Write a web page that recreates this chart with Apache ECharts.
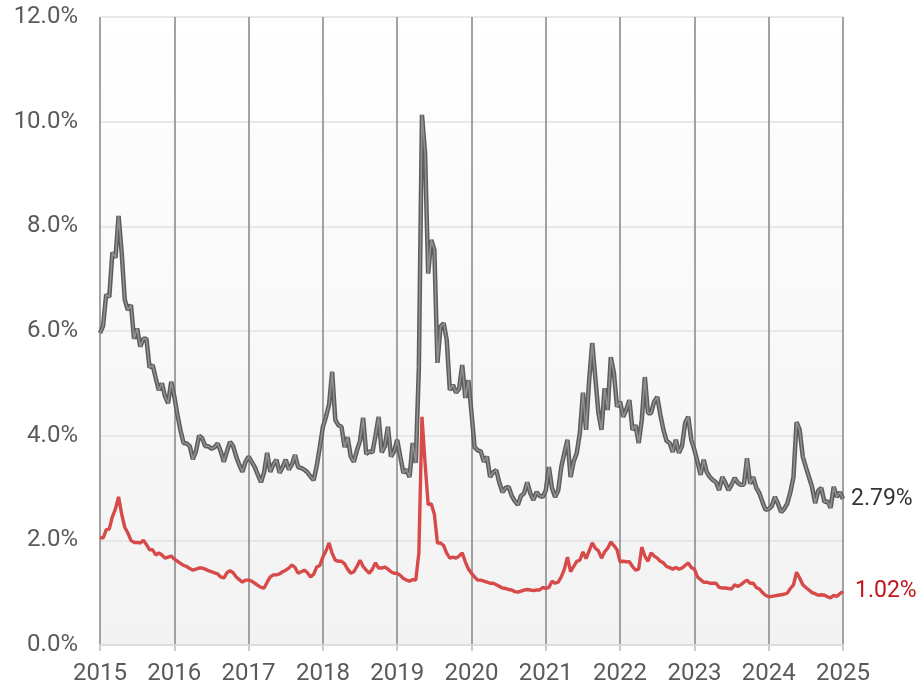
<!DOCTYPE html>
<html>
<head>
<meta charset="utf-8">
<script src="https://cdn.jsdelivr.net/npm/echarts@6/dist/echarts.min.js"></script>
<style>
  html, body { margin: 0; padding: 0; background: #fff; }
  #chart { width: 924px; height: 692px; }
</style>
</head>
<body>
<div id="chart"></div>
<script>
// samples are taken twice a month (1st and 15th), starting Jan 2015
const startYear = 2015;
const endYear = 2025;
const stepsPerYear = 24;

const grayValues = [
    5.96, 6.1, 6.7, 6.65, 7.5, 7.4, 8.2, 7.5, 6.6, 6.4, 6.5, 5.85, 6.05, 5.7, 5.85, 5.85, 5.3, 5.35, 5.1, 4.87, 5.0, 4.75, 4.62, 5.03,
    4.75, 4.4, 4.1, 3.86, 3.85, 3.8, 3.55, 3.7, 4.0, 3.95, 3.8, 3.8, 3.75, 3.78, 3.85, 3.7, 3.5, 3.7, 3.88, 3.8, 3.6, 3.44, 3.31, 3.5,
    3.6, 3.5, 3.4, 3.25, 3.11, 3.3, 3.67, 3.31, 3.45, 3.54, 3.29, 3.4, 3.54, 3.35, 3.45, 3.63, 3.4, 3.38, 3.35, 3.3, 3.22, 3.15, 3.42, 3.78,
    4.17, 4.36, 4.6, 5.22, 4.3, 4.2, 4.17, 3.78, 3.97, 3.6, 3.5, 3.72, 3.9, 4.34, 3.65, 3.7, 3.68, 4.0, 4.36, 3.68, 3.8, 4.17, 3.6, 3.7,
    3.92, 3.6, 3.29, 3.35, 3.21, 3.86, 3.48, 5.3, 10.13, 9.4, 7.1, 7.74, 7.55, 5.39, 6.08, 6.15, 5.83, 4.87, 4.97, 4.82, 4.9, 5.35, 4.72, 5.06,
    4.43, 3.78, 3.72, 3.7, 3.5, 3.6, 3.21, 3.3, 3.34, 3.1, 2.92, 3.0, 3.02, 2.85, 2.75, 2.68, 2.85, 2.9, 3.11, 2.9, 2.77, 2.92, 2.85, 2.83,
    2.95, 3.4, 3.0, 2.83, 2.95, 3.4, 3.67, 3.92, 3.21, 3.5, 3.67, 4.05, 4.82, 4.11, 5.06, 5.77, 5.1, 4.43, 4.11, 4.91, 4.49, 5.5, 5.2, 4.55,
    4.65, 4.36, 4.5, 4.68, 4.11, 4.2, 3.86, 4.3, 5.12, 4.43, 4.43, 4.65, 4.74, 4.4, 4.11, 3.9, 3.86, 3.69, 3.92, 3.67, 3.8, 4.24, 4.36, 3.92,
    3.73, 3.5, 3.25, 3.54, 3.3, 3.21, 3.15, 3.11, 2.96, 3.21, 3.1, 2.96, 3.06, 3.19, 3.1, 3.06, 3.06, 3.57, 3.08, 3.21, 3.0, 2.9, 2.73, 2.58,
    2.6, 2.65, 2.83, 2.7, 2.54, 2.6, 2.7, 2.92, 3.21, 4.26, 4.11, 3.6, 3.4, 3.21, 3.02, 2.71, 2.95, 3.0, 2.73, 2.75, 2.62, 3.02, 2.83, 2.92,
    2.79
];

const redValues = [
    2.06, 2.04, 2.2, 2.22, 2.45, 2.6, 2.83, 2.5, 2.25, 2.14, 2.0, 1.96, 1.96, 1.95, 2.0, 1.92, 1.82, 1.82, 1.72, 1.76, 1.72, 1.66, 1.68, 1.7,
    1.64, 1.6, 1.56, 1.52, 1.5, 1.46, 1.43, 1.45, 1.47, 1.47, 1.45, 1.42, 1.4, 1.38, 1.36, 1.3, 1.28, 1.38, 1.42, 1.38, 1.3, 1.25, 1.2, 1.24,
    1.24, 1.22, 1.18, 1.14, 1.1, 1.09, 1.2, 1.3, 1.34, 1.34, 1.36, 1.4, 1.43, 1.47, 1.53, 1.48, 1.37, 1.4, 1.43, 1.38, 1.3, 1.35, 1.49, 1.52,
    1.68, 1.8, 1.95, 1.75, 1.62, 1.6, 1.6, 1.55, 1.45, 1.37, 1.4, 1.5, 1.62, 1.5, 1.43, 1.37, 1.45, 1.57, 1.47, 1.47, 1.49, 1.45, 1.4, 1.37,
    1.37, 1.33, 1.27, 1.24, 1.22, 1.25, 1.24, 1.76, 4.36, 3.48, 2.68, 2.7, 2.5, 1.95, 1.95, 1.9, 1.75, 1.66, 1.68, 1.66, 1.7, 1.76, 1.59, 1.45,
    1.37, 1.3, 1.24, 1.24, 1.22, 1.2, 1.18, 1.18, 1.15, 1.12, 1.09, 1.08, 1.06, 1.05, 1.02, 1.01, 1.03, 1.05, 1.06, 1.05, 1.04, 1.05, 1.05, 1.1,
    1.08, 1.1, 1.22, 1.18, 1.2, 1.3, 1.45, 1.68, 1.4, 1.5, 1.6, 1.62, 1.78, 1.65, 1.8, 1.95, 1.85, 1.8, 1.66, 1.78, 1.85, 1.97, 1.9, 1.82,
    1.59, 1.6, 1.59, 1.59, 1.5, 1.43, 1.45, 1.87, 1.7, 1.6, 1.76, 1.7, 1.66, 1.6, 1.57, 1.5, 1.48, 1.45, 1.48, 1.45, 1.47, 1.52, 1.57, 1.48,
    1.45, 1.3, 1.25, 1.2, 1.2, 1.18, 1.18, 1.18, 1.1, 1.09, 1.09, 1.08, 1.07, 1.15, 1.12, 1.15, 1.2, 1.24, 1.18, 1.18, 1.1, 1.07, 1.0, 0.95,
    0.92, 0.93, 0.94, 0.95, 0.96, 0.97, 0.99, 1.08, 1.15, 1.39, 1.28, 1.15, 1.1, 1.05, 1.0, 0.98, 0.95, 0.96, 0.95, 0.92, 0.9, 0.95, 0.93, 0.98,
    1.02
];

const yTicks = [0, 2, 4, 6, 8, 10, 12];

// pair each value with its position in fractional years
const toPoints = (values) => values.map((v, i) => [startYear + i / stepsPerYear, v]);

const chart = echarts.init(document.getElementById('chart'));
const labelFont = { fontFamily: 'Roboto', fontSize: 24, color: '#5a5a5a' };

const option = {
    animation: false,
    grid: {
        left: 100,
        right: 81,
        top: 17,
        bottom: 47,
        show: true,
        borderWidth: 0,
        backgroundColor: {
            type: 'linear', x: 0, y: 0, x2: 0, y2: 1,
            colorStops: [
                { offset: 0, color: '#ffffff' },
                { offset: 1, color: '#f2f2f2' }
            ]
        }
    },
    xAxis: {
        type: 'value',
        min: startYear,
        max: endYear,
        interval: 1,
        axisLine: { show: true, lineStyle: { color: '#dddddd', width: 2 } },
        axisTick: { show: true, length: 6, lineStyle: { color: '#cccccc', width: 2 } },
        axisLabel: { ...labelFont, margin: 17, formatter: (v) => String(v) },
        splitLine: { show: true, lineStyle: { color: '#8c8c8c', width: 1.6 } }
    },
    yAxis: {
        type: 'value',
        min: yTicks[0],
        max: yTicks[yTicks.length - 1],
        interval: 2,
        axisLine: { show: false },
        axisTick: { show: false },
        axisLabel: { ...labelFont, margin: 22, formatter: (v) => v.toFixed(1) + '%' },
        splitLine: { show: true, lineStyle: { color: '#e2e2e2', width: 1.5 } }
    },
    series: [
        {
            name: 'gray-outline',
            type: 'line',
            data: toPoints(grayValues),
            showSymbol: false,
            lineStyle: { color: '#5c5c5c', width: 4.5 },
            endLabel: {
                show: true,
                fontFamily: 'Roboto',
                fontSize: 23,
                color: '#333333',
                distance: 8,
                formatter: (p) => p.value[1].toFixed(2) + '%'
            },
            z: 3
        },
        {
            name: 'gray',
            type: 'line',
            data: toPoints(grayValues),
            showSymbol: false,
            lineStyle: { color: '#909090', width: 1.6 },
            z: 4
        },
        {
            name: 'red',
            type: 'line',
            data: toPoints(redValues),
            showSymbol: false,
            lineStyle: { color: '#d64a4a', width: 3.4 },
            endLabel: {
                show: true,
                fontFamily: 'Roboto',
                fontSize: 23,
                color: '#c0161b',
                distance: 12,
                formatter: (p) => p.value[1].toFixed(2) + '%'
            },
            z: 5
        }
    ]
};

chart.setOption(option);
</script>
</body>
</html>
